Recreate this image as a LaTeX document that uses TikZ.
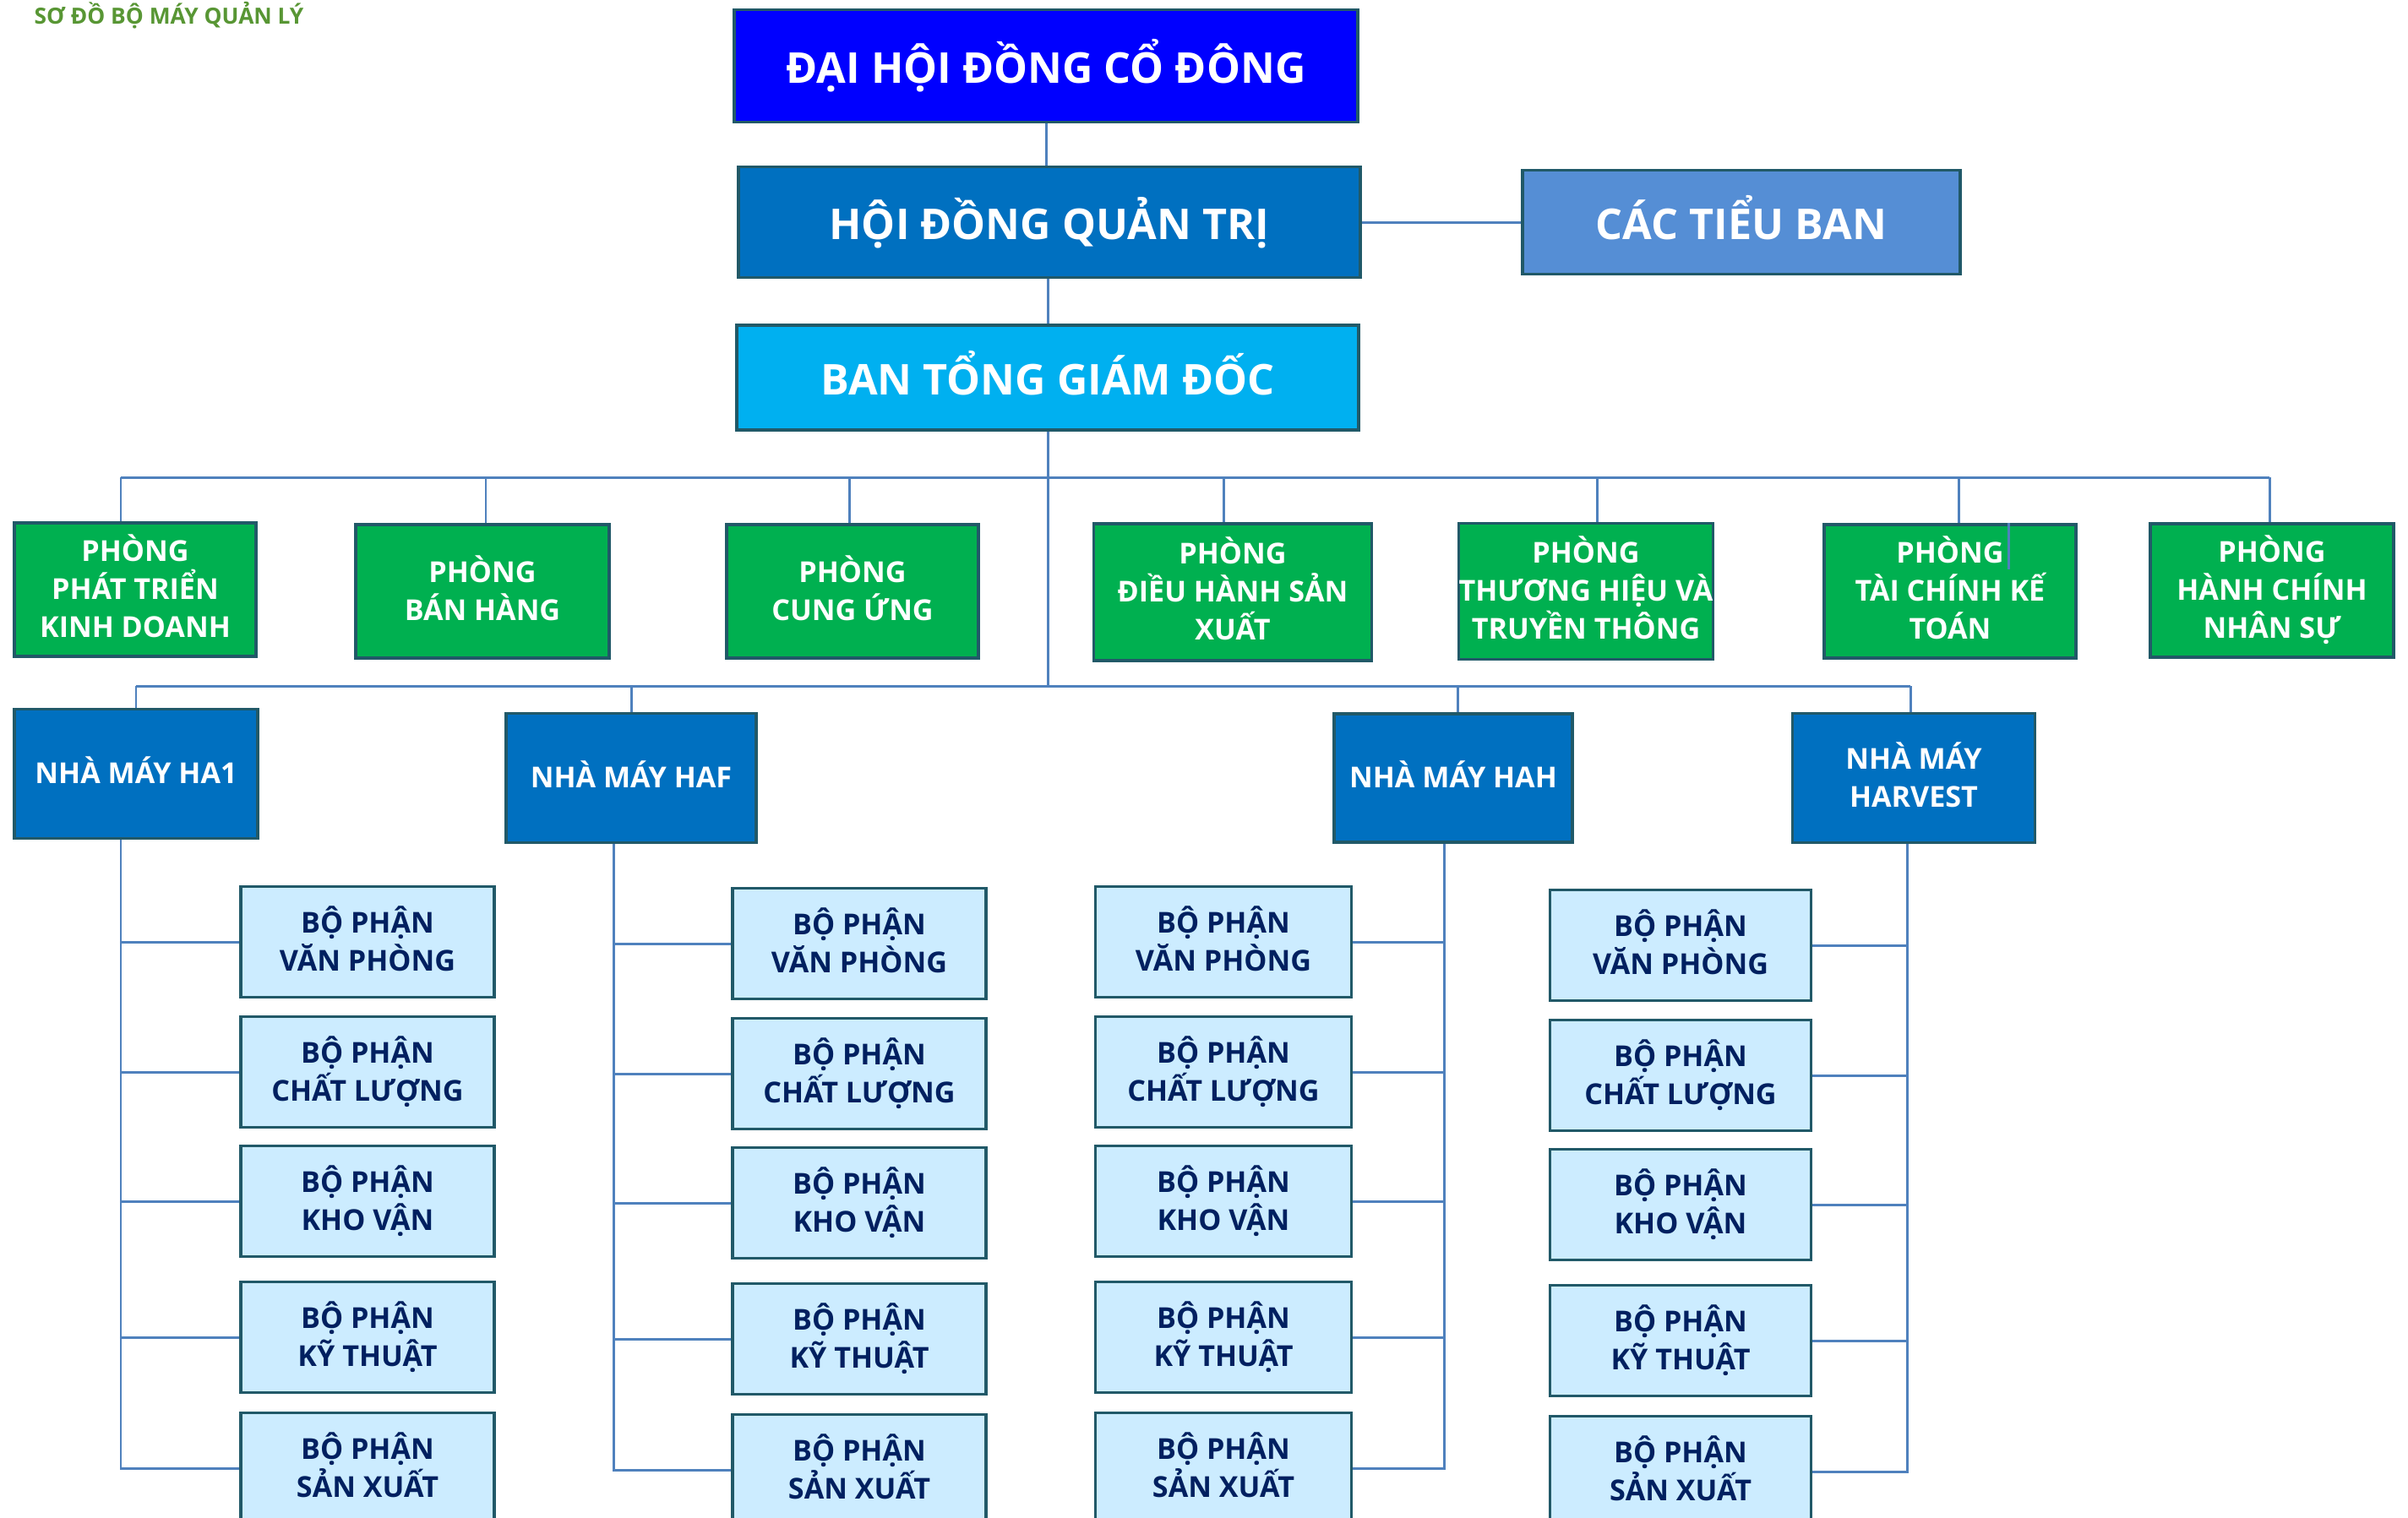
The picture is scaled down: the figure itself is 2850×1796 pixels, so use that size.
\documentclass[tikz,border=0pt]{standalone}
\usepackage{fontspec}
\setmainfont{Open Sans}
\usetikzlibrary{positioning}
\definecolor{dhblue}{RGB}{0,0,255}
\definecolor{plantblue}{RGB}{0,112,192}
\definecolor{subblue}{RGB}{85,142,213}
\definecolor{ceoblue}{RGB}{0,176,240}
\definecolor{deptgreen}{RGB}{0,176,80}
\definecolor{unitfill}{RGB}{204,236,255}
\definecolor{unitink}{RGB}{0,32,96}
\definecolor{boxline}{RGB}{33,89,104}
\definecolor{linkblue}{RGB}{79,129,189}
\definecolor{titlegreen}{RGB}{88,150,52}
\tikzset{
  top box/.style={draw=boxline,line width=1pt,text=white,inner sep=0pt,
    text height=11.6pt,text depth=0pt,font=\fontsize{14.3}{18}\selectfont\bfseries},
  dept box/.style={draw=boxline,line width=1pt,fill=deptgreen,text=white,align=center,
    inner sep=0pt,minimum height=1.58cm,font=\fontsize{9.7}{12.8}\selectfont\bfseries,
    execute at end node={\rule[-0.23em]{0pt}{0pt}}},
  plant box/.style={dept box,fill=plantblue,minimum height=1.53cm},
  unit box/.style={dept box,fill=unitfill,text=unitink,minimum height=1.31cm},
  link/.style={draw=linkblue,line width=0.85pt},
  title text/.style={text=titlegreen,inner sep=0pt,font=\fontsize{7.5}{10}\selectfont\bfseries},
}

\begin{document}
\begin{tikzpicture}[x=0.01cm,y=-0.01cm]
  \clip (0,0) rectangle (2850,1796);
  \node[title text,anchor=west] (title) at (40,18) {SƠ ĐỒ BỘ MÁY QUẢN LÝ};
  % top levels
  \node[top box,fill=dhblue,minimum width=7.38cm,minimum height=1.33cm] (dhdcd) at (1238,78) {ĐẠI HỘI ĐỒNG CỔ ĐÔNG};
  \node[top box,fill=plantblue,minimum width=7.36cm,minimum height=1.31cm] (hdqt) at (1242,263) {HỘI ĐỒNG QUẢN TRỊ};
  \node[top box,fill=subblue,minimum width=5.18cm,minimum height=1.23cm] (tieuban) at (2061,263) {CÁC TIỂU BAN};
  \node[top box,fill=ceoblue,minimum width=7.36cm,minimum height=1.24cm] (btgd) at (1240,447) {BAN TỔNG GIÁM ĐỐC};
  \draw[link] (dhdcd.south) -- (dhdcd.south |- hdqt.north);
  \draw[link] (hdqt) -- (tieuban);
  \draw[link] (hdqt.south -| btgd.north) -- (btgd.north);
  % departments
  \node[dept box,minimum width=2.86cm] (pttkd) at (160,698) {PHÒNG\\PHÁT TRIỂN\\KINH DOANH};
  \node[dept box,minimum width=3.00cm] (pbh) at (571,700) {PHÒNG\\BÁN HÀNG};
  \node[dept box,minimum width=2.98cm] (pcu) at (1009,700) {PHÒNG\\CUNG ỨNG};
  \node[dept box,minimum width=3.29cm,minimum height=1.62cm] (pdhsx) at (1459,701) {PHÒNG\\ĐIỀU HÀNH SẢN\\XUẤT};
  \node[dept box,minimum width=3.00cm,minimum height=1.61cm] (pthtt) at (1877,700) {PHÒNG\\THƯƠNG HIỆU VÀ\\TRUYỀN THÔNG};
  \node[dept box,minimum width=2.98cm] (ptckt) at (2308,700) {PHÒNG\\TÀI CHÍNH KẾ\\TOÁN};
  \node[dept box,minimum width=2.88cm] (phcns) at (2689,699) {PHÒNG\\HÀNH CHÍNH\\NHÂN SỰ};
  \coordinate (busw) at (143,565);
  \coordinate (buse) at (2686,565);
  \draw[link] (busw) -- (buse);
  \foreach \n/\x in {pttkd/143,pbh/575,pcu/1005,pdhsx/1448,pthtt/1890,ptckt/2318,phcns/2686}
    \draw[link] (\x,565) -- (\n.north -| \x,0);
  \draw[link] (ptckt.north -| 2377,0) -- ++(0,55);
  % plants
  \node[plant box,minimum width=2.88cm] (ha1) at (161,916) {NHÀ MÁY HA1};
  \node[plant box,minimum width=2.96cm] (haf) at (747,921) {NHÀ MÁY HAF};
  \node[plant box,minimum width=2.82cm,minimum height=1.52cm] (hah) at (1720,921) {NHÀ MÁY HAH};
  \node[plant box,minimum width=2.87cm] (hv) at (2265,921) {NHÀ MÁY\\HARVEST};
  \coordinate (plantw) at (161,812);
  \coordinate (plante) at (2261,812);
  \draw[link] (plantw) -- (plante);
  \draw[link] (btgd.south) -- (btgd.south |- plantw);
  \foreach \n/\x in {ha1/161,haf/747,hah/1725,hv/2261}
    \draw[link] (\x,812) -- (\n.north -| \x,0);
  % sections under each plant
  \foreach \p/\cx/\w/\dy/\sx/\side in {ha1/435/3.00/0/143/west,haf/1017/3.00/2/726/west,
      hah/1448/3.03/0/1709/east,hv/1989/3.09/4/2257/east} {
    \coordinate (\p-sp) at (\p.south -| \sx,0);
    \foreach \t/\y [count=\i] in {VĂN PHÒNG/1115,CHẤT LƯỢNG/1269,KHO VẬN/1422,KỸ THUẬT/1583,SẢN XUẤT/1738} {
      \node[unit box,minimum width=\w cm] (\p-\i) at (\cx,{\y+\dy}) {BỘ PHẬN\\\t};
      \draw[link] (\p-sp) |- (\p-\i.\side);
    }
  }
\end{tikzpicture}
\end{document}
